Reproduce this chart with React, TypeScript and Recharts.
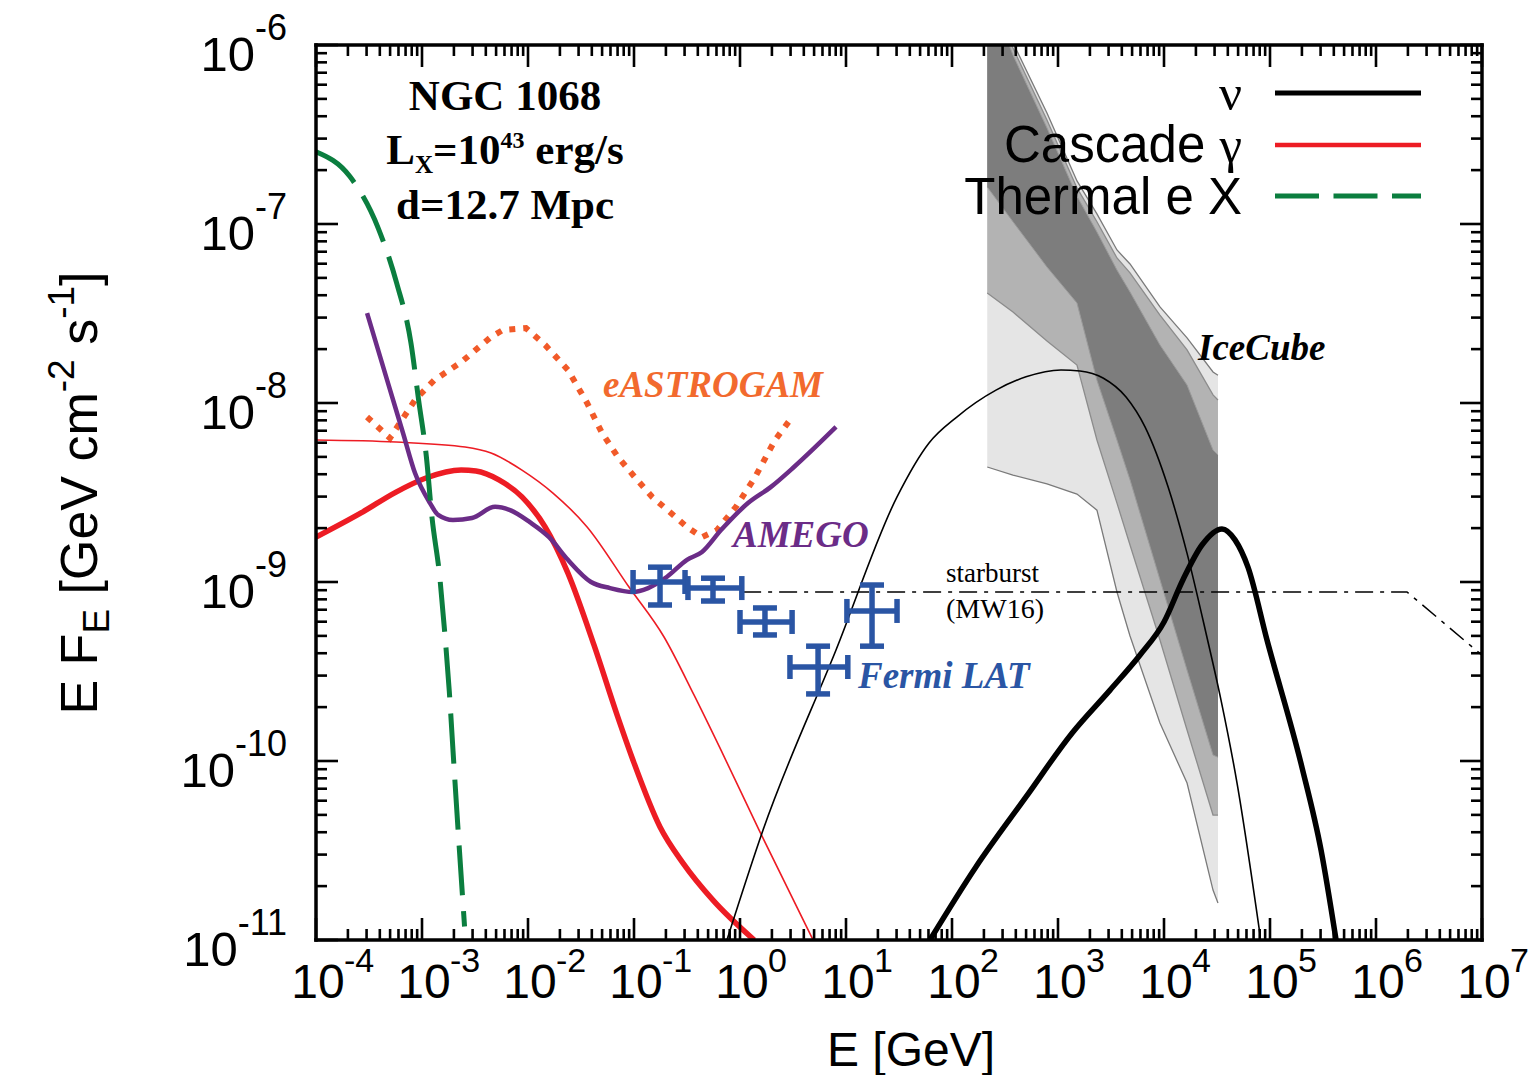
import React from 'react';
import { ComposedChart, Line, Area, Scatter, ErrorBar, XAxis, YAxis } from 'recharts';

const W = 1536;
const H = 1075;
const SANS = '"Liberation Sans", Arial, Helvetica, sans-serif';
const SERIF = '"Liberation Serif", "Times New Roman", Times, serif';

// axis decades, labels are 10^n
const xDecades = [-4, -3, -2, -1, 0, 1, 2, 3, 4, 5, 6, 7];
const yDecades = [-11, -10, -9, -8, -7, -6];

// Thermal e X (green dashed)
const thermalE = [1e-4, 2.09e-4, 3.87e-4, 5.77e-4, 7.87e-4, 9.29e-4, 1.1e-3, 1.24e-3, 1.47e-3, 1.64e-3, 1.81e-3, 1.96e-3, 2.13e-3, 2.52e-3];
const thermalF = [2.53e-7, 1.84e-7, 9.46e-8, 4.67e-8, 2.16e-8, 1.04e-8, 5.0e-9, 2.32e-9, 1.07e-9, 5.19e-10, 2.44e-10, 1.15e-10, 5.3e-11, 1.19e-11];

// Cascade gamma (thick red)
const cascadeE = [1e-4, 2.66e-4, 5.69e-4, 1.09e-3, 2.34e-3, 3.23e-3, 5.32e-3, 8.77e-3, 1.45e-2, 2.38e-2, 4.19e-2, 6.92e-2, 9.79e-2, 0.176, 0.29, 0.556, 1.36];
const cascadeF = [1.78e-9, 2.43e-9, 3.18e-9, 3.81e-9, 4.22e-9, 4.17e-9, 3.72e-9, 2.99e-9, 2.03e-9, 1.12e-9, 4.45e-10, 1.81e-10, 1.01e-10, 4.28e-11, 2.69e-11, 1.67e-11, 1.0e-11];

// second cascade model (thin red)
const cascade2E = [1e-4, 5.69e-4, 2.55e-3, 4.48e-3, 8.77e-3, 1.72e-2, 3.61e-2, 8.97e-2, 0.192, 0.368, 0.662, 1.51, 4.89];
const cascade2F = [6.21e-9, 6.05e-9, 5.68e-9, 5.26e-9, 4.22e-9, 3.14e-9, 2.03e-9, 9.37e-10, 4.93e-10, 2.34e-10, 1.15e-10, 4.12e-11, 1.0e-11];

// AMEGO sensitivity
const amegoE = [3.03e-4, 4.78e-4, 6.62e-4, 8.59e-4, 1.19e-3, 1.42e-3, 1.96e-3, 2.96e-3, 4.89e-3, 6.77e-3, 1.04e-2, 1.58e-2, 2.38e-2, 3.93e-2, 5.94e-2, 9.79e-2, 0.136, 0.205, 0.316, 0.438, 0.662, 1.19, 1.96, 3.23, 8.05];
const amegoF = [3.18e-8, 1.29e-8, 6.8e-9, 4.06e-9, 2.76e-9, 2.37e-9, 2.22e-9, 2.28e-9, 2.63e-9, 2.52e-9, 2.16e-9, 1.78e-9, 1.33e-9, 1.0e-9, 9.25e-10, 8.79e-10, 9.25e-10, 1.07e-9, 1.33e-9, 1.47e-9, 1.95e-9, 2.76e-9, 3.4e-9, 4.39e-9, 7.35e-9];

// e-ASTROGAM sensitivity (dotted)
const astroE = [3.03e-4, 4.99e-4, 8.59e-4, 1.3e-3, 2.34e-3, 4.48e-3, 5.81e-3, 9.57e-3, 1.45e-2, 2.38e-2, 3.61e-2, 4.99e-2, 7.06e-2, 0.107, 0.148, 0.223, 0.316, 0.438, 0.607, 0.916, 1.39, 2.14, 3.1];
const astroF = [8.35e-9, 6.37e-9, 1.04e-8, 1.34e-8, 1.69e-8, 2.34e-8, 2.56e-8, 2.62e-8, 2.11e-8, 1.53e-8, 1.0e-8, 6.8e-9, 4.99e-9, 3.72e-9, 2.99e-9, 2.43e-9, 2.03e-9, 1.78e-9, 1.95e-9, 2.63e-9, 3.86e-9, 6.21e-9, 8.35e-9];

// neutrino, second model (thin black)
const nu2E = [0.753, 1.65, 8.05, 30.3, 60.7, 111, 260, 499, 1067, 1614, 2660, 4385, 6620, 10920, 16480, 24890, 34500, 48870, 80540];
const nu2F = [1e-11, 4.12e-11, 4.17e-10, 2.99e-9, 5.98e-9, 8.35e-9, 1.18e-8, 1.4e-8, 1.53e-8, 1.51e-8, 1.38e-8, 1.08e-8, 7.35e-9, 3.4e-9, 1.45e-9, 5.19e-10, 2.19e-10, 7.53e-11, 1.07e-11];

// neutrino (thick black)
const nuE = [61.9, 168, 499, 1355, 3096, 5940, 1.0e4, 15100, 22800, 35240, 46770, 61970, 93700, 2.0e5, 3.03e5, 4.2e5];
const nuF = [1e-11, 2.56e-11, 6.3e-11, 1.43e-10, 2.49e-10, 3.91e-10, 5.98e-10, 1.03e-9, 1.61e-9, 1.98e-9, 1.72e-9, 1.21e-9, 4.74e-10, 9.25e-11, 3.18e-11, 1e-11];

// starburst (MW16), dash-dot
const starE = [1.07, 1.96e6, 1e7];
const starF = [8.8e-10, 8.8e-10, 3.9e-10];

// Fermi LAT points
const fermiE = [0.176, 0.556, 1.72, 5.45, 17.6];
const fermiELo = [0.098, 0.323, 1.0, 2.96, 10.2];
const fermiEHi = [0.303, 1.04, 3.1, 10.4, 30.3];
const fermiF = [1.0e-9, 9.25e-10, 5.98e-10, 3.35e-10, 6.89e-10];
const fermiFLo = [7.44e-10, 7.83e-10, 5.06e-10, 2.37e-10, 4.38e-10];
const fermiFHi = [1.21e-9, 1.05e-9, 7.16e-10, 4.38e-10, 9.62e-10];

// IceCube bands
const iceE = [215, 376, 787, 1510, 2330, 3600, 4780, 9160, 16500, 29000, 32300];
const iceLightHi = [2.06e-6, 1.03e-6, 4.17e-7, 1.74e-7, 1.14e-7, 7.16e-8, 5.98e-8, 3.44e-8, 2.31e-8, 1.49e-8, 1.43e-8];
const iceLightLo = [4.39e-9, 3.96e-9, 3.53e-9, 3.1e-9, 2.52e-9, 8.79e-10, 4.99e-10, 1.63e-10, 7.53e-11, 1.9e-11, 1.61e-11];
const iceMidHi = [2.06e-6, 9.62e-7, 3.81e-7, 1.59e-7, 1.03e-7, 6.46e-8, 5.33e-8, 3.1e-8, 1.98e-8, 1.11e-8, 1.04e-8];
const iceMidLo = [4.12e-8, 3.22e-8, 2.22e-8, 1.63e-8, 6.21e-9, 2.76e-9, 1.61e-9, 4.74e-10, 1.49e-10, 4.99e-11, 4.99e-11];
const iceDarkHi = [2.06e-6, 8.79e-7, 3.44e-7, 1.43e-7, 9.02e-8, 5.53e-8, 4.17e-8, 2.11e-8, 1.26e-8, 5.46e-9, 5.12e-9];
const iceDarkLo = [1.61e-7, 1.03e-7, 5.75e-8, 3.62e-8, 1.34e-8, 6.21e-9, 3.72e-9, 1.03e-9, 3.22e-10, 1.08e-10, 1.05e-10];

const pairs = (es: number[], fs: number[]) => es.map((e, i) => ({ e, f: fs[i] }));
const band = (lo: number[], hi: number[]) => iceE.map((e, i) => ({ e, r: [lo[i], hi[i]] }));

const fermiData = fermiE.map((e, i) => ({
  e,
  f: fermiF[i],
  ex: [e - fermiELo[i], fermiEHi[i] - e],
  ey: [fermiF[i] - fermiFLo[i], fermiFHi[i] - fermiF[i]],
}));

const logTicks = (decades: number[]) => {
  const out: number[] = [];
  decades.forEach((d, i) => {
    out.push(Math.pow(10, d));
    if (i < decades.length - 1) for (let k = 2; k <= 9; k++) out.push(k * Math.pow(10, d));
  });
  return out;
};
const xTicks = logTicks(xDecades);
const yTicks = logTicks(yDecades);

const isMajor = (v: number) => {
  const l = Math.log10(v);
  return Math.abs(l - Math.round(l)) < 1e-6;
};
const TK = { stroke: '#000', strokeWidth: 2.6 };

function BottomTick({ x, y, payload }: any) {
  const major = isMajor(payload.value);
  const n = Math.round(Math.log10(payload.value));
  return (
    <g>
      <line x1={x} x2={x} y1={y} y2={y - (major ? 22 : 11)} {...TK} />
      {major && (
        <g fontFamily={SANS} fill="#000">
          <text x={x + 2} y={y + 58} fontSize={48} textAnchor="middle">10</text>
          <text x={x + 28} y={y + 32} fontSize={34}>{n}</text>
        </g>
      )}
    </g>
  );
}

function TopTick({ x, y, payload }: any) {
  const major = isMajor(payload.value);
  return <line x1={x} x2={x} y1={y} y2={y + (major ? 22 : 11)} {...TK} />;
}

function LeftTick({ x, y, payload }: any) {
  const major = isMajor(payload.value);
  const n = Math.round(Math.log10(payload.value));
  return (
    <g>
      <line x1={x} x2={x + (major ? 22 : 11)} y1={y} y2={y} {...TK} />
      {major && (
        <text x={x - 29} y={y + 26} fontFamily={SANS} fontSize={49} textAnchor="end" fill="#000">
          10<tspan dy={-31} fontSize={36}>{n}</tspan>
        </text>
      )}
    </g>
  );
}

function RightTick({ x, y, payload }: any) {
  const major = isMajor(payload.value);
  return <line x1={x} x2={x - (major ? 22 : 11)} y1={y} y2={y} {...TK} />;
}

const frame = { stroke: '#000', strokeWidth: 3.5, strokeLinecap: 'square' as const };

export default function App() {
  return (
    <div style={{ position: 'relative', width: W, height: H, background: '#fff' }}>
      <style>{'body{margin:0}'}</style>
      <ComposedChart width={W} height={H} margin={{ top: 35, right: 44, bottom: 95, left: 276 }}>
        <XAxis xAxisId="b" dataKey="e" type="number" scale="log" domain={[1e-4, 1e7]} allowDataOverflow
          ticks={xTicks} interval={0} tick={BottomTick} tickLine={false} tickSize={0} tickMargin={0}
          axisLine={frame} height={40} orientation="bottom" />
        <XAxis xAxisId="t" dataKey="e" type="number" scale="log" domain={[1e-4, 1e7]} allowDataOverflow
          ticks={xTicks} interval={0} tick={TopTick} tickLine={false} tickSize={0} tickMargin={0}
          axisLine={frame} height={10} orientation="top" />
        <YAxis yAxisId="l" type="number" scale="log" domain={[1e-11, 1e-6]} allowDataOverflow
          ticks={yTicks} interval={0} tick={LeftTick} tickLine={false} tickSize={0} tickMargin={0}
          axisLine={frame} width={40} orientation="left" />
        <YAxis yAxisId="r" type="number" scale="log" domain={[1e-11, 1e-6]} allowDataOverflow
          ticks={yTicks} interval={0} tick={RightTick} tickLine={false} tickSize={0} tickMargin={0}
          axisLine={frame} width={10} orientation="right" />

        <Area xAxisId="b" yAxisId="l" data={band(iceLightLo, iceLightHi)} dataKey="r" type="linear"
          fill="#e5e5e5" fillOpacity={1} stroke="#7a7a7a" strokeWidth={1.3} dot={false} activeDot={false} isAnimationActive={false} />
        <Area xAxisId="b" yAxisId="l" data={band(iceMidLo, iceMidHi)} dataKey="r" type="linear"
          fill="#b3b3b3" fillOpacity={1} stroke="#8c8c8c" strokeWidth={1.3} dot={false} activeDot={false} isAnimationActive={false} />
        <Area xAxisId="b" yAxisId="l" data={band(iceDarkLo, iceDarkHi)} dataKey="r" type="linear"
          fill="#7d7d7d" fillOpacity={1} stroke="#9a9a9a" strokeWidth={1} dot={false} activeDot={false} isAnimationActive={false} />

        <Line xAxisId="b" yAxisId="l" data={pairs(starE, starF)} dataKey="f" type="linear" stroke="#000"
          strokeWidth={1.5} strokeDasharray="18 7 4 7" dot={false} activeDot={false} isAnimationActive={false} />
        <Line xAxisId="b" yAxisId="l" data={pairs(astroE, astroF)} dataKey="f" type="linear" stroke="#f15a29"
          strokeWidth={6} strokeDasharray="6 8" dot={false} activeDot={false} isAnimationActive={false} />
        <Line xAxisId="b" yAxisId="l" data={pairs(cascade2E, cascade2F)} dataKey="f" type="monotone" stroke="#ed1c24"
          strokeWidth={1.6} dot={false} activeDot={false} isAnimationActive={false} />
        <Line xAxisId="b" yAxisId="l" data={pairs(cascadeE, cascadeF)} dataKey="f" type="monotone" stroke="#ed1c24"
          strokeWidth={5.5} dot={false} activeDot={false} isAnimationActive={false} />
        <Line xAxisId="b" yAxisId="l" data={pairs(amegoE, amegoF)} dataKey="f" type="monotone" stroke="#6b2c87"
          strokeWidth={4.5} dot={false} activeDot={false} isAnimationActive={false} />
        <Line xAxisId="b" yAxisId="l" data={pairs(thermalE, thermalF)} dataKey="f" type="monotone" stroke="#0b7e3f"
          strokeWidth={5} strokeDasharray="50 16" dot={false} activeDot={false} isAnimationActive={false} />
        <Line xAxisId="b" yAxisId="l" data={pairs(nu2E, nu2F)} dataKey="f" type="monotone" stroke="#000"
          strokeWidth={1.6} dot={false} activeDot={false} isAnimationActive={false} />
        <Line xAxisId="b" yAxisId="l" data={pairs(nuE, nuF)} dataKey="f" type="monotone" stroke="#000"
          strokeWidth={5.5} dot={false} activeDot={false} isAnimationActive={false} />

        <Scatter xAxisId="b" yAxisId="l" data={fermiData} dataKey="f" fill="#2a55a4" shape={() => <g />} isAnimationActive={false}>
          <ErrorBar dataKey="ey" direction="y" width={12} stroke="#2a55a4" strokeWidth={5.5} isAnimationActive={false} />
          <ErrorBar dataKey="ex" direction="x" width={12} stroke="#2a55a4" strokeWidth={5.5} isAnimationActive={false} />
        </Scatter>
      </ComposedChart>

      <svg width={W} height={H} style={{ position: 'absolute', left: 0, top: 0, pointerEvents: 'none' }}>
        <g fontFamily={SERIF} fontWeight="bold" fontSize={43} textAnchor="middle" fill="#000">
          <text x={505} y={110}>NGC 1068</text>
          <text x={505} y={164}>
            L<tspan fontSize={25} dy={9}>X</tspan>
            <tspan dy={-9}>=10</tspan>
            <tspan fontSize={24} dy={-16}>43</tspan>
            <tspan dy={16}> erg/s</tspan>
          </text>
          <text x={505} y={219}>d=12.7 Mpc</text>
        </g>

        <g fontFamily={SANS} fontSize={51} textAnchor="end" fill="#000">
          <text x={1242} y={110} fontFamily={SERIF}>ν</text>
          <text x={1242} y={162}>Cascade <tspan fontFamily={SERIF}>γ</tspan></text>
          <text x={1242} y={214}>Thermal e X</text>
        </g>
        <line x1={1275} x2={1421} y1={93} y2={93} stroke="#000" strokeWidth={5} />
        <line x1={1275} x2={1421} y1={145} y2={145} stroke="#ed1c24" strokeWidth={4.5} />
        <line x1={1275} x2={1421} y1={196} y2={196} stroke="#0b7e3f" strokeWidth={5} strokeDasharray="44 14.5" />

        <g fontFamily={SERIF} fontWeight="bold" fontStyle="italic" fontSize={37}>
          <text x={603} y={397} fill="#f26a2e">eASTROGAM</text>
          <text x={733} y={547} fill="#6b2c87">AMEGO</text>
          <text x={858} y={688} fill="#2a55a4">Fermi LAT</text>
          <text x={1198} y={360} fill="#000">IceCube</text>
        </g>
        <g fontFamily={SERIF} fill="#000">
          <text x={946} y={582} fontSize={27}>starburst</text>
          <text x={946} y={618} fontSize={28}>(MW16)</text>
        </g>

        <text x={911} y={1066} textAnchor="middle" fontFamily={SANS} fontSize={48} fill="#000">E [GeV]</text>
        <text transform="translate(97,493) rotate(-90)" textAnchor="middle" fontFamily={SANS} fontSize={52} fill="#000">
          E F<tspan fontSize={37} dy={12}>E</tspan>
          <tspan dy={-12}> [GeV cm</tspan>
          <tspan fontSize={37} dy={-23}>-2</tspan>
          <tspan dy={23}> s</tspan>
          <tspan fontSize={37} dy={-23}>-1</tspan>
          <tspan dy={23}>]</tspan>
        </text>
      </svg>
    </div>
  );
}
